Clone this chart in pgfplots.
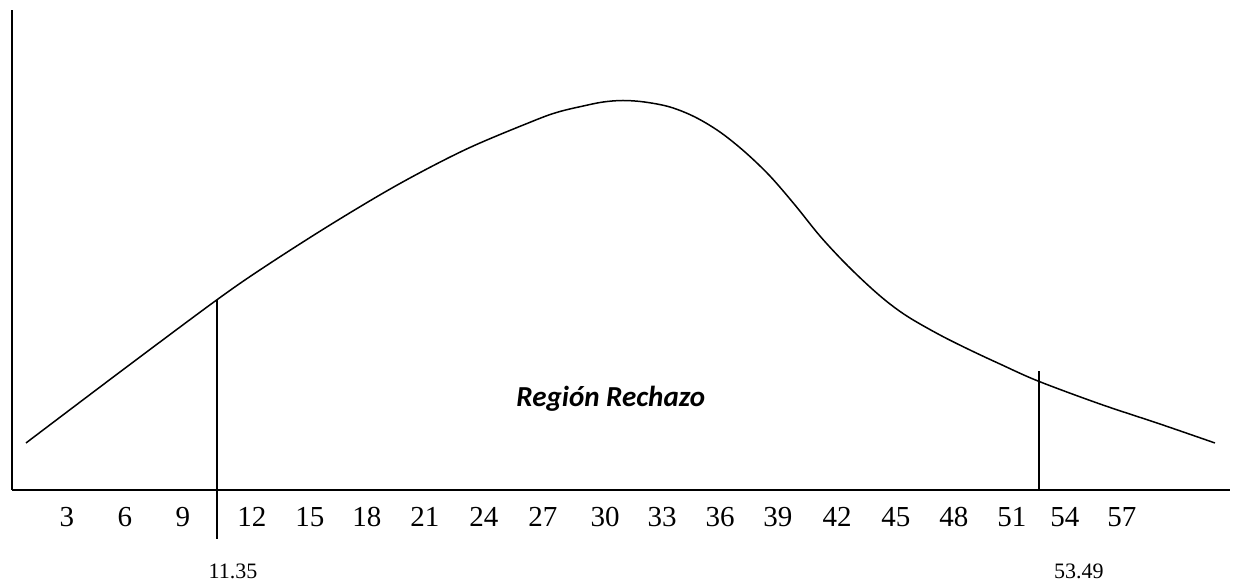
\documentclass[border=0pt]{standalone}
\usepackage{pgfplots}
\pgfplotsset{compat=1.18}
\usepackage{fontspec}
\setmainfont{Liberation Serif}
\newfontfamily\carlito{Carlito}
\begin{document}
\begin{tikzpicture}
\begin{axis}[
  scale only axis,
  width=609pt, height=240pt,
  xmin=0.184, xmax=62.55, ymin=0, ymax=480,
  axis lines=left,
  axis line style={-, line width=1pt},
  clip=false,
  ytick=\empty,
  xtick={3,5.97,8.94,12.47,15.44,18.36,21.33,24.35,27.37,30.55,33.47,36.44,39.4,42.43,45.45,48.42,51.39,54.1,57.02},
  xticklabels={3,6,9,12,15,18,21,24,27,30,33,36,39,42,45,48,51,54,57},
  major tick length=0pt,
  xticklabel style={font=\fontsize{14.5}{15}\selectfont, anchor=north, inner sep=0pt, yshift=-8.5pt},
]
\addplot[smooth, tension=0.55, line width=0.75pt, black] coordinates {
(0.901,47) (5.714,118) (10.665,190) (13.225,224.5) (16.635,267) (20.051,306.5) (23.466,341) (26.876,369) (28.156,378) (29.436,384) (30.460,388) (31.469,389.5) (32.570,388) (33.875,383) (35.155,373) (36.435,358) (37.715,338) (38.995,314) (40.276,285) (41.556,254) (42.836,227) (44.116,203) (45.140,186) (46.164,172) (47.700,155) (49.236,140) (50.772,126) (52.718,109) (55.893,86) (58.965,66) (61.781,47)
};
\addplot[line width=0.75pt, black] coordinates {(10.67,-49) (10.67,190)};
\addplot[line width=0.75pt, black] coordinates {(52.77,0) (52.77,119)};
\node[font=\carlito\bfseries\itshape\fontsize{14.5}{16}\selectfont] at (axis cs:30.85,91) {Región Rechazo};
\node[font=\fontsize{11}{13}\selectfont] at (axis cs:11.5,-81) {11.35};
\node[font=\fontsize{11}{13}\selectfont] at (axis cs:54.82,-81) {53.49};
\path (axis cs:-0.43,-91) rectangle (axis cs:62.81,490);
\end{axis}
\end{tikzpicture}
\end{document}
